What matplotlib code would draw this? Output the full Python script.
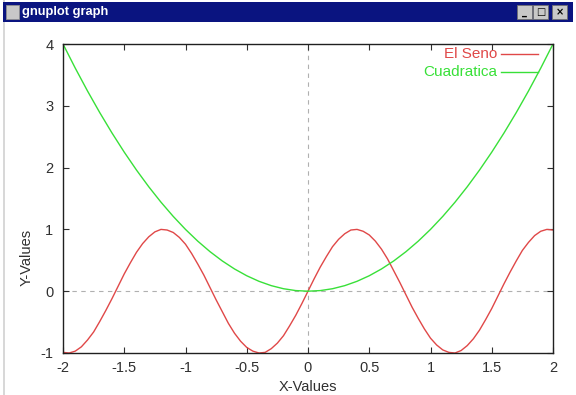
import matplotlib
matplotlib.use("Agg")
import matplotlib.pyplot as plt
from matplotlib.patches import Rectangle
import numpy as np

plt.rcParams['font.family'] = ['Liberation Sans', 'DejaVu Sans']
plt.rcParams['axes.unicode_minus'] = False

red = '#e04848'
green = '#38e038'
grid_gray = '#b0b0b0'
text_col = '#303030'

# values
x_seno = np.linspace(-2, 2, 81)
y_seno = [-0.99, -1.00, -0.97, -0.90, -0.79, -0.66, -0.49, -0.31, -0.12, 0.08,
          0.28, 0.46, 0.63, 0.77, 0.88, 0.96, 1.00, 0.99, 0.95, 0.87,
          0.76, 0.61, 0.44, 0.26, 0.06, -0.14, -0.33, -0.52, -0.68, -0.81,
          -0.91, -0.97, -1.00, -0.99, -0.93, -0.84, -0.72, -0.56, -0.39, -0.20,
          0.00,
          0.20, 0.39, 0.56, 0.72, 0.84, 0.93, 0.99, 1.00, 0.97, 0.91,
          0.81, 0.68, 0.52, 0.33, 0.14, -0.06, -0.26, -0.44, -0.61, -0.76,
          -0.87, -0.95, -0.99, -1.00, -0.96, -0.88, -0.77, -0.63, -0.46, -0.28,
          -0.08, 0.12, 0.31, 0.49, 0.66, 0.79, 0.90, 0.97, 1.00, 0.99]
x_cuad = np.linspace(-2, 2, 41)
y_cuad = [4.00, 3.61, 3.24, 2.89, 2.56, 2.25, 1.96, 1.69, 1.44, 1.21,
          1.00, 0.81, 0.64, 0.49, 0.36, 0.25, 0.16, 0.09, 0.04, 0.01,
          0.00,
          0.01, 0.04, 0.09, 0.16, 0.25, 0.36, 0.49, 0.64, 0.81, 1.00,
          1.21, 1.44, 1.69, 1.96, 2.25, 2.56, 2.89, 3.24, 3.61, 4.00]
x_ticks = [-2, -1.5, -1, -0.5, 0, 0.5, 1, 1.5, 2]
x_labels = ['-2', '-1.5', '-1', '-0.5', '0', '0.5', '1', '1.5', '2']
y_ticks = [-1, 0, 1, 2, 3, 4]
labels = ['El Seno', 'Cuadratica']

W, H = 576, 395
fig = plt.figure(figsize=(W / 100, H / 100), dpi=100)
fig.patch.set_facecolor('white')

def px(x0, y0, w, h):
    # pixel box (top-left origin) -> figure coords
    return (x0 / W, 1 - (y0 + h) / H), w / W, h / H

# window chrome
fig.add_artist(Rectangle((3 / W, 0), 2 / W, 1, transform=fig.transFigure,
                         facecolor='#d8d8d8', edgecolor='none'))
xy, w, h = px(3, 2, 570, 20)
fig.add_artist(Rectangle(xy, w, h, transform=fig.transFigure,
                         facecolor='#0a1480', edgecolor='none'))
xy, w, h = px(6, 5, 13, 14)
fig.add_artist(Rectangle(xy, w, h, transform=fig.transFigure,
                         facecolor='#c8c8c8', edgecolor='#909090', lw=0.6))
fig.text(22 / W, 1 - 12 / H, 'gnuplot graph', color='white', fontsize=9.3,
         fontweight='bold', va='center', ha='left')
for bx, sym in [(517, '_'), (533, '□'), (552, '×')]:
    xy, w, h = px(bx, 5, 15, 14)
    fig.add_artist(Rectangle(xy, w, h, transform=fig.transFigure,
                             facecolor='#c8c8c8', edgecolor='#707070', lw=0.6))
    fig.text((bx + 7.5) / W, 1 - 12 / H, sym, color='black', fontsize=7,
             fontweight='bold', ha='center', va='center',
             family=['DejaVu Sans'])

ax = fig.add_axes([63 / W, 1 - 353 / H, 490 / W, 309 / H])
ax.plot(x_seno, y_seno, color=red, lw=1.0, label=labels[0])
ax.plot(x_cuad, y_cuad, color=green, lw=1.0, label=labels[1])
ax.axhline(0, color=grid_gray, lw=0.8, ls=(0, (4, 4)), zorder=0)
ax.axvline(0, color=grid_gray, lw=0.8, ls=(0, (4, 4)), zorder=0)

ax.set_xlim(-2, 2)
ax.set_ylim(-1, 4)
ax.set_xticks(x_ticks)
ax.set_xticklabels(x_labels)
ax.set_yticks(y_ticks)
ax.tick_params(direction='in', top=True, right=True, length=4, width=0.8,
               labelsize=10.5, colors=text_col)
ax.tick_params(axis='x', pad=6)
ax.tick_params(axis='y', pad=7)
for s in ax.spines.values():
    s.set_color('#202020')
    s.set_linewidth(1.0)

fig.text(308 / W, 1 - 387 / H, 'X-Values', fontsize=10.5, color=text_col,
         ha='center', va='center')
fig.text(27 / W, 1 - 257 / H, 'Y-Values', fontsize=10.5, color=text_col,
         ha='center', va='center', rotation=90)

# legend gnuplot style: right-aligned text then sample line
for i, (lab, col) in enumerate(zip(labels, [red, green])):
    yy = 1 - (54 + 18 * i) / H
    fig.text(497 / W, yy, lab, fontsize=11, color=col, ha='right', va='center')
    fig.add_artist(plt.Line2D([501 / W, 538 / W], [yy, yy], color=col, lw=1.0,
                              transform=fig.transFigure))

fig.savefig('out.png', dpi=100)
